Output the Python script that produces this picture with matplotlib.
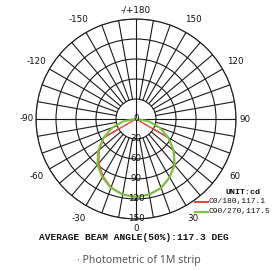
import numpy as np
import matplotlib
matplotlib.use('Agg')
import matplotlib.pyplot as plt
from matplotlib.lines import Line2D

# ---- data ----
angles_deg = [-90, -80, -70, -60, -50, -40, -30, -20, -10, 0,
              10, 20, 30, 40, 50, 60, 70, 80, 90]
c0_180 = [0, 0, 0, 56, 72, 87, 99, 109, 115, 117,
          115, 110, 101, 89, 73, 56, 0, 0, 0]
c90_270 = [0, 19, 38, 56, 74, 90, 101, 110, 115, 117,
           115, 110, 101, 90, 74, 56, 38, 19, 0]
ring_values = [0, 30, 60, 90, 120, 150]
ring_labels = ['0', '30', '60', '90', '120', '150']
angle_ticks = [0, 30, 60, 90, 120, 150, 180, -150, -120, -90, -60, -30]
angle_labels = ['0', '30', '60', '90', '120', '150', '-/+180',
                '-150', '-120', '-90', '-60', '-30']
series_names = ['C0/180,117.1', 'C90/270,117.5']
unit_text = 'UNIT:cd'
beam_text = 'AVERAGE BEAM ANGLE(50%):117.3 DEG'
caption = '\u00b7 Photometric of 1M strip'

W, H = 273, 271
fig = plt.figure(figsize=(W / 100, H / 100), dpi=100)
fig.patch.set_facecolor('white')

cx, cy, R = 136, 119, 100
ax = fig.add_axes([(cx - R) / W, (H - cy - R) / H, 2 * R / W, 2 * R / H],
                  projection='polar')
ax.set_theta_zero_location('S')
ax.set_theta_direction(1)
ax.set_ylim(0, 150)
ax.set_xticks([])
ax.set_yticks(ring_values[1:])
ax.set_yticklabels([])
ax.yaxis.grid(True, color='#1a1a1a', lw=0.8)
ax.xaxis.grid(False)
ax.spines['polar'].set_color('#1a1a1a')
ax.spines['polar'].set_linewidth(0.8)

grid_kw = dict(color='#1a1a1a', lw=0.8, zorder=1)
for a in range(0, 360, 10):
    t = np.deg2rad(a)
    if a % 90 == 0:
        ax.plot([t, t], [0, 150], **grid_kw)
    else:
        ax.plot([t, t], [30, 150], **grid_kw)

th = np.deg2rad(angles_deg)
red = '#e8473d'
green = '#7cc142'
ax.plot(th, c0_180, color=red, lw=1.0, zorder=3)
ax.plot(th, c90_270, color=green, lw=1.6, zorder=4, alpha=0.95)

# ring labels
for v, lab in zip(ring_values, ring_labels):
    ax.text(0, v, lab, ha='center', va='center', fontsize=6.3,
            color='#111111', weight='medium', zorder=6)

# angle labels
for a, lab in zip(angle_ticks, angle_labels):
    r = 164 if a % 90 == 0 else 172
    ax.text(np.deg2rad(a), r, lab, ha='center', va='center', fontsize=6.3,
            color='#111111', weight='medium', clip_on=False)

mono = 'Liberation Mono'
def fx(x): return x / W
def fy(y): return 1 - y / H

fig.text(fx(243), fy(192), unit_text, ha='center', va='center',
         fontsize=6, family=mono, weight='bold', color='#111111')
for yy, col, name in [(202, red, series_names[0]), (212, green, series_names[1])]:
    fig.add_artist(Line2D([fx(195), fx(208)], [fy(yy), fy(yy)], color=col, lw=1.5))
    fig.text(fx(209), fy(yy), name, ha='left', va='center', fontsize=5.8,
             family=mono, color='#111111')

fig.text(fx(134), fy(238), beam_text, ha='center', va='center',
         fontsize=6.8, family=mono, weight='bold', color='#111111')
fig.text(fx(139), fy(261), caption, ha='center', va='center',
         fontsize=7.6, family='Noto Sans', weight='medium', color='#555555')

fig.savefig('out.png', dpi=100, facecolor='white')
